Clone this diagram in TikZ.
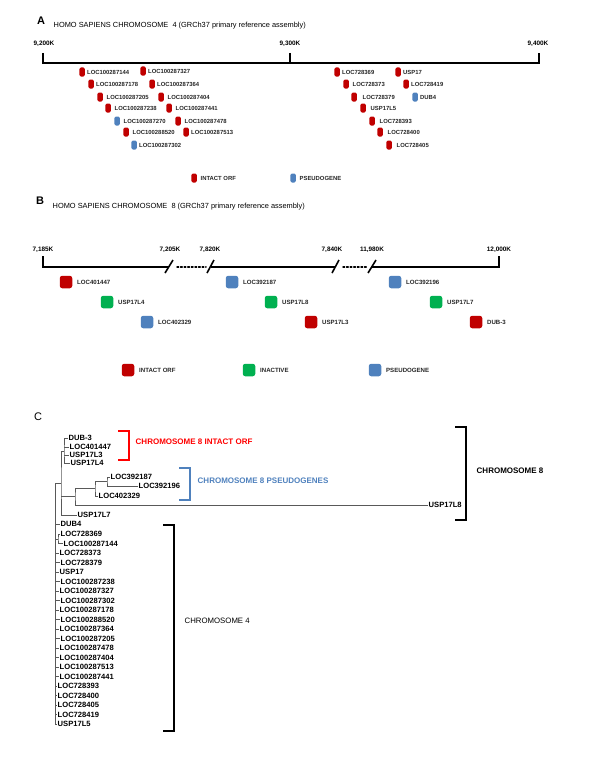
\documentclass[tikz,border=0pt]{standalone}
\usepackage{fontspec}
\setmainfont{Liberation Sans}
\usetikzlibrary{positioning}
\definecolor{orfred}{RGB}{192,0,0}
\definecolor{inactgreen}{RGB}{0,176,80}
\definecolor{pseudoblue}{RGB}{79,129,189}
\definecolor{brred}{RGB}{255,0,0}

\begin{document}
\begin{tikzpicture}[x=1pt, y=-1pt,
                every node/.style={inner sep=0.5pt},
                panel/.style={font=\bfseries\fontsize{11}{12}\selectfont},
                title/.style={anchor=west, font=\fontsize{7.4}{8}\selectfont},
                scalelbl/.style={font=\bfseries\fontsize{6.4}{7}\selectfont},
                pill/.style={rectangle, rounded corners=1.5pt, minimum width=5.5pt,
                        minimum height=9pt, inner sep=0pt},
                tile/.style={rectangle, rounded corners=2.5pt, minimum size=12.5pt, inner sep=0pt},
                geneA/.style={font=\bfseries\fontsize{5.9}{6}\selectfont, text=black!85, label distance=1.5pt},
                geneB/.style={font=\bfseries\fontsize{6.1}{7}\selectfont, text=black!85, label distance=4pt},
                leaf/.style={anchor=west, font=\bfseries\fontsize{7.6}{8}\selectfont},
                branch/.style={draw=black!65, line width=0.55pt},
                brlbl/.style={anchor=west, font=\bfseries\fontsize{8}{9}\selectfont},
                axis/.style={line width=1.6pt}]
\useasboundingbox (0,0) rectangle (600,768);

% ---- panel A
\node[panel] (pa) at (41,21) {A};
\node[title] (ta) at (53,26) {HOMO SAPIENS CHROMOSOME\ \ 4 (GRCh37 primary reference assembly)};

\node[scalelbl] (s1) at (44,44) {9,200K};
\node[scalelbl] (s2) at (290,44) {9,300K};
\node[scalelbl] (s3) at (538,44) {9,400K};
\draw[axis] (43,53) -- (43,63) -- (539,63) -- (539,53);
\draw[axis] (290,53) -- (290,63);

\node[pill, fill=orfred, label={[geneA]right:LOC100287144}] (a1) at (82,72) {};
\node[pill, fill=orfred, label={[geneA]right:LOC100287178}] (a2) at (91,84) {};
\node[pill, fill=orfred, label={[geneA, label distance=3pt]right:LOC100287205}] (a3) at (100,97) {};
\node[pill, fill=orfred, label={[geneA, label distance=3pt]right:LOC100287238}] (a4) at (108,108) {};
\node[pill, fill=pseudoblue, label={[geneA, label distance=3pt]right:LOC100287270}] (a5) at (117,121) {};
\node[pill, fill=orfred, label={[geneA, label distance=3pt]right:LOC100288520}] (a6) at (126,132) {};
\node[pill, fill=pseudoblue, label={[geneA]right:LOC100287302}] (a7) at (134,145) {};

\node[pill, fill=orfred, label={[geneA]right:LOC100287327}] (b1) at (143,71) {};
\node[pill, fill=orfred, label={[geneA]right:LOC100287364}] (b2) at (152,84) {};
\node[pill, fill=orfred, label={[geneA, label distance=3pt]right:LOC100287404}] (b3) at (161,97) {};
\node[pill, fill=orfred, label={[geneA, label distance=3pt]right:LOC100287441}] (b4) at (169,108) {};
\node[pill, fill=orfred, label={[geneA, label distance=3pt]right:LOC100287478}] (b5) at (178,121) {};
\node[pill, fill=orfred, label={[geneA]right:LOC100287513}] (b6) at (186,132) {};

\node[pill, fill=orfred, label={[geneA]right:LOC728369}] (c1) at (337,72) {};
\node[pill, fill=orfred, label={[geneA, label distance=3pt]right:LOC728373}] (c2) at (346,84) {};
\node[pill, fill=orfred, label={[geneA, label distance=5pt]right:LOC728379}] (c3) at (354,97) {};
\node[pill, fill=orfred, label={[geneA, label distance=4pt]right:USP17L5}] (c4) at (363,108) {};
\node[pill, fill=orfred, label={[geneA, label distance=4pt]right:LOC728393}] (c5) at (372,121) {};
\node[pill, fill=orfred, label={[geneA, label distance=4pt]right:LOC728400}] (c6) at (380,132) {};
\node[pill, fill=orfred, label={[geneA, label distance=4pt]right:LOC728405}] (c7) at (389,145) {};

\node[pill, fill=orfred, label={[geneA]right:USP17}] (d1) at (398,72) {};
\node[pill, fill=orfred, label={[geneA]right:LOC728419}] (d2) at (406,84) {};
\node[pill, fill=pseudoblue, label={[geneA]right:DUB4}] (d3) at (415,97) {};

\node[pill, fill=orfred, label={[geneA, label distance=3pt]right:INTACT ORF}] (ka1) at (194,178) {};
\node[pill, fill=pseudoblue, label={[geneA, label distance=3pt]right:PSEUDOGENE}] (ka2) at (293,178) {};

% ---- panel B
\node[panel] (pb) at (40,201) {B};
\node[title] (tb) at (52,207) {HOMO SAPIENS CHROMOSOME\ \ 8 (GRCh37 primary reference assembly)};

\node[scalelbl] (u1) at (43,250) {7,185K};
\node[scalelbl] (u2) at (170,250) {7,205K};
\node[scalelbl] (u3) at (210,250) {7,820K};
\node[scalelbl] (u4) at (332,250) {7,840K};
\node[scalelbl] (u5) at (372,250) {11,980K};
\node[scalelbl] (u6) at (499,250) {12,000K};
\draw[axis] (43,256) -- (43,267) -- (169,267);
\draw[axis] (211,267) -- (335,267);
\draw[axis] (372,267) -- (499,267) -- (499,256);
\draw[axis] (165,273) -- (173,260);
\draw[axis] (207,273) -- (214,260);
\draw[axis] (332,273) -- (339,260);
\draw[axis] (368,273) -- (376,260);
\draw[axis, dotted, line cap=round, line width=1.5pt] (177,267) -- (206,267);
\draw[axis, dotted, line cap=round, line width=1.5pt] (343,267) -- (367,267);

\node[tile, fill=orfred, label={[geneB]right:LOC401447}] (e1) at (66,282) {};
\node[tile, fill=inactgreen, label={[geneB]right:USP17L4}] (e2) at (107,302) {};
\node[tile, fill=pseudoblue, label={[geneB]right:LOC402329}] (e3) at (147,322) {};
\node[tile, fill=pseudoblue, label={[geneB]right:LOC392187}] (f1) at (232,282) {};
\node[tile, fill=inactgreen, label={[geneB]right:USP17L8}] (f2) at (271,302) {};
\node[tile, fill=orfred, label={[geneB]right:USP17L3}] (f3) at (311,322) {};
\node[tile, fill=pseudoblue, label={[geneB]right:LOC392196}] (g1) at (395,282) {};
\node[tile, fill=inactgreen, label={[geneB]right:USP17L7}] (g2) at (436,302) {};
\node[tile, fill=orfred, label={[geneB]right:DUB-3}] (g3) at (476,322) {};

\node[tile, fill=orfred, label={[geneB]right:INTACT ORF}] (kb1) at (128,370) {};
\node[tile, fill=inactgreen, label={[geneB]right:INACTIVE}] (kb2) at (249,370) {};
\node[tile, fill=pseudoblue, label={[geneB]right:PSEUDOGENE}] (kb3) at (375,370) {};

% ---- panel C
\node[font=\fontsize{11}{12}\selectfont] (pc) at (38,417) {C};

\node[leaf] (dub3) at (68,438) {DUB-3};
\node[leaf] (l401447) at (69,447) {LOC401447};
\node[leaf] (usp17l3) at (69,455) {USP17L3};
\node[leaf] (usp17l4) at (70,463) {USP17L4};
\node[leaf] (l392187) at (110,477) {LOC392187};
\node[leaf] (l392196) at (138,486) {LOC392196};
\node[leaf] (l402329) at (98,496) {LOC402329};
\node[leaf] (usp17l8) at (428,505) {USP17L8};
\node[leaf] (usp17l7) at (77,515) {USP17L7};
\node[leaf] (dub4) at (60,524) {DUB4};
\node[leaf] (q0) at (60,534) {LOC728369};
\node[leaf] (q1) at (63,543.5) {LOC100287144};
\node[leaf] (q2) at (59,553) {LOC728373};
\node[leaf] (q3) at (60,562.5) {LOC728379};
\node[leaf] (q4) at (59,572) {USP17};
\node[leaf] (q5) at (60,581.5) {LOC100287238};
\node[leaf] (q6) at (59,591) {LOC100287327};
\node[leaf] (q7) at (60,600.5) {LOC100287302};
\node[leaf] (q8) at (59,610) {LOC100287178};
\node[leaf] (q9) at (60,619.5) {LOC100288520};
\node[leaf] (q10) at (59,629) {LOC100287364};
\node[leaf] (q11) at (60,638.5) {LOC100287205};
\node[leaf] (q12) at (59,648) {LOC100287478};
\node[leaf] (q13) at (59,657.5) {LOC100287404};
\node[leaf] (q14) at (59,667) {LOC100287513};
\node[leaf] (q15) at (59,676.5) {LOC100287441};
\node[leaf] (q16) at (57,686) {LOC728393};
\node[leaf] (q17) at (57,695.5) {LOC728400};
\node[leaf] (q18) at (57,705) {LOC728405};
\node[leaf] (q19) at (57,714.5) {LOC728419};
\node[leaf] (q20) at (57,724) {USP17L5};

\coordinate (n8i) at (64,451);
\coordinate (n8) at (61,483);
\coordinate (np) at (75,496);
\coordinate (np2) at (95,488);
\coordinate (np3) at (107,481);
\coordinate (root) at (55.5,487);
\coordinate (n4) at (58,539);

\draw[branch] (dub3.west) -| (n8i) |- (usp17l4.west);
\draw[branch] (n8i |- l401447.west) -- (l401447.west);
\draw[branch] (n8i |- usp17l3.west) -- (usp17l3.west);
\draw[branch] (l392187.west) -| (np3) |- (l392196.west);
\draw[branch] (np3) -| (np2) |- (l402329.west);
\draw[branch] (np2) -| (np) |- (usp17l8.west);
\draw[branch] (n8i) -| (n8) |- (usp17l7.west);
\draw[branch] (n8 |- np) -- (np);
\draw[branch] (n8) -| (root) |- (q20.west);
\draw[branch] (q0.west) -| (n4) |- (q1.west);
\draw[branch] (root |- n4) -- (n4);
\foreach \g in {dub4,q2,q3,q4,q5,q6,q7,q8,q9,q10,q11,q12,q13,q14,q15,q16,q17,q18,q19}
        \draw[branch] (root |- \g.west) -- (\g.west);
\draw[branch, line width=1.1pt] (root |- q2.west) -- (root |- q3.west);
\draw[branch, line width=1.1pt] (root |- q7.west) -- (root |- q9.west);
\draw[branch, line width=1.1pt] (root |- q11.west) -- (root |- q13.west);

% brackets
\node[brlbl, text=brred] (intact) at (135,442) {CHROMOSOME 8 INTACT ORF};
\draw[brred, line width=1.3pt] (118,431) -- (129,431) -- (129,460) -- (118,460);
\node[brlbl, text=pseudoblue] (pseudo) at (197,481) {CHROMOSOME 8 PSEUDOGENES};
\draw[pseudoblue, line width=1.3pt] (179,468) -- (190,468) -- (190,500) -- (179,500);
\node[brlbl] (chr8) at (476,471) {CHROMOSOME 8};
\draw[line width=1.4pt] (455,427) -- (466,427) -- (466,520) -- (455,520);
\node[brlbl, font=\fontsize{7.8}{9}\selectfont] (chr4) at (184,621) {CHROMOSOME 4};
\draw[line width=1.4pt] (163,525) -- (174,525) -- (174,731) -- (163,731);
\end{tikzpicture}
\end{document}
